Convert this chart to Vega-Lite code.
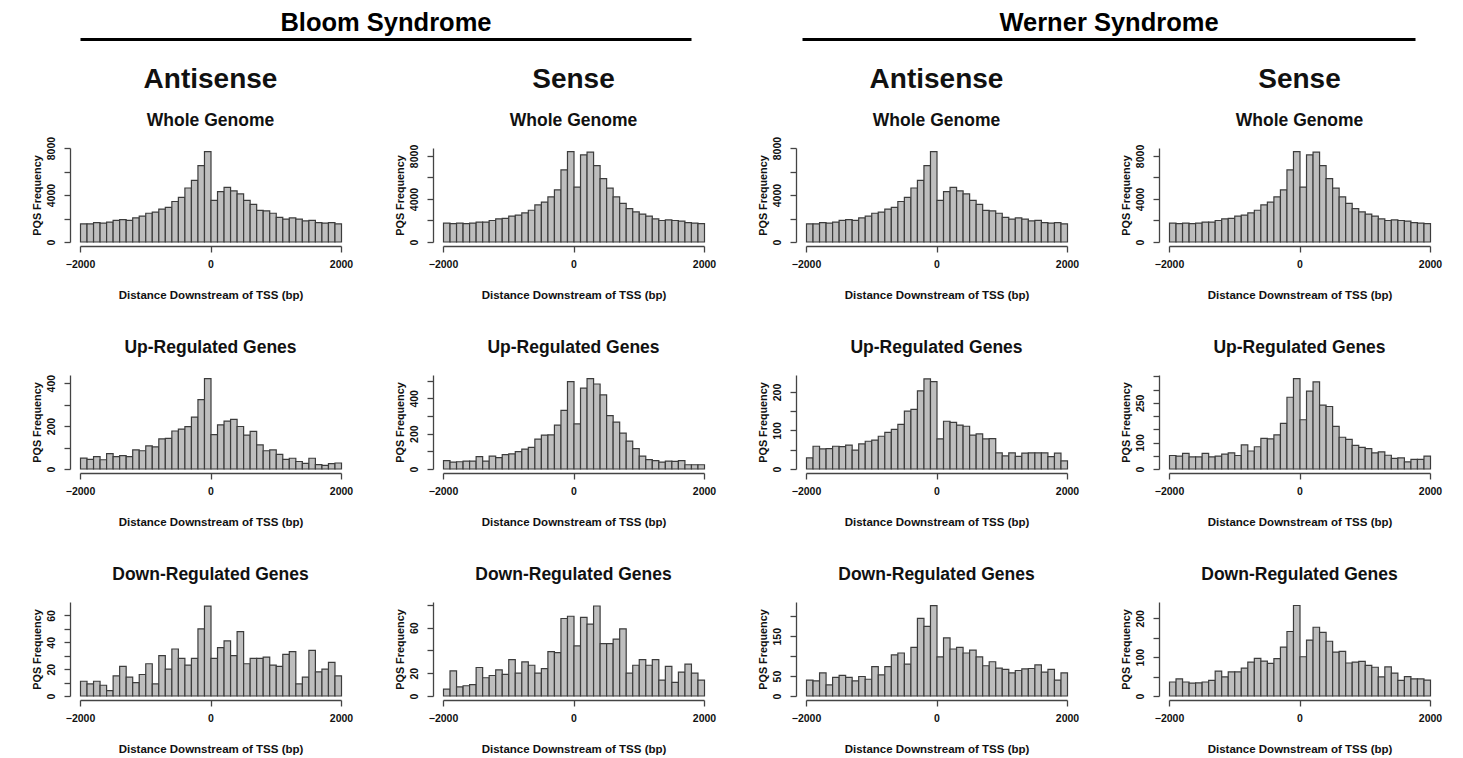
{
"$schema": "https://vega.github.io/schema/vega-lite/v6.json",
"background": "white",
"padding": {"left": 30, "top": 10, "right": 5, "bottom": 2},
"config": {
 "view": {"stroke": null},
 "font": "Liberation Sans",
 "title": {"fontSize": 17.5, "fontWeight": "bold", "color": "#111", "offset": 19, "anchor": "middle", "frame": "group", "subtitleFontSize": 17.5, "subtitleFontWeight": "bold", "subtitleColor": "#111", "subtitleFont": "Liberation Sans", "subtitlePadding": 18},
 "axis": {"domainColor": "#444", "tickColor": "#444", "labelColor": "#111", "titleColor": "#111", "labelFont": "Liberation Sans", "titleFont": "Liberation Sans", "labelFontWeight": "bold", "titleFontWeight": "bold", "grid": false, "labelFontSize": 10.5, "titleFontSize": 11, "tickSize": 6, "domainWidth": 1.3, "tickWidth": 1.3, "format": "d", "labelOverlap": false},
 "axisX": {"offset": 4, "labelPadding": 7, "titlePadding": 20, "labelFlush": false, "titleFontSize": 11.5},
 "axisY": {"offset": 10, "labelAngle": -90, "labelAlign": "center", "labelBaseline": "bottom", "labelPadding": 8, "titlePadding": 4, "titleFontSize": 10.8},
 "bar": {"fill": "#bebebe", "stroke": "#3c3c3c", "strokeWidth": 1.2, "binSpacing": 0}
},
"datasets": {
"wa": [{"a":-2000,"b":-1900,"n":1550},{"a":-1900,"b":-1800,"n":1550},{"a":-1800,"b":-1700,"n":1650},{"a":-1700,"b":-1600,"n":1600},{"a":-1600,"b":-1500,"n":1700},{"a":-1500,"b":-1400,"n":1850},{"a":-1400,"b":-1300,"n":1900},{"a":-1300,"b":-1200,"n":1850},{"a":-1200,"b":-1100,"n":2050},{"a":-1100,"b":-1000,"n":2200},{"a":-1000,"b":-900,"n":2450},{"a":-900,"b":-800,"n":2550},{"a":-800,"b":-700,"n":2800},{"a":-700,"b":-600,"n":2950},{"a":-600,"b":-500,"n":3450},{"a":-500,"b":-400,"n":3800},{"a":-400,"b":-300,"n":4600},{"a":-300,"b":-200,"n":5250},{"a":-200,"b":-100,"n":6500},{"a":-100,"b":0,"n":7700},{"a":0,"b":100,"n":3550},{"a":100,"b":200,"n":4300},{"a":200,"b":300,"n":4650},{"a":300,"b":400,"n":4350},{"a":400,"b":500,"n":4100},{"a":500,"b":600,"n":3550},{"a":600,"b":700,"n":3200},{"a":700,"b":800,"n":2700},{"a":800,"b":900,"n":2650},{"a":900,"b":1000,"n":2450},{"a":1000,"b":1100,"n":2100},{"a":1100,"b":1200,"n":1950},{"a":1200,"b":1300,"n":2050},{"a":1300,"b":1400,"n":1950},{"a":1400,"b":1500,"n":1800},{"a":1500,"b":1600,"n":1850},{"a":1600,"b":1700,"n":1650},{"a":1700,"b":1800,"n":1600},{"a":1800,"b":1900,"n":1650},{"a":1900,"b":2000,"n":1550}],
"ws": [{"a":-2000,"b":-1900,"n":1750},{"a":-1900,"b":-1800,"n":1700},{"a":-1800,"b":-1700,"n":1750},{"a":-1700,"b":-1600,"n":1700},{"a":-1600,"b":-1500,"n":1750},{"a":-1500,"b":-1400,"n":1850},{"a":-1400,"b":-1300,"n":1850},{"a":-1300,"b":-1200,"n":2000},{"a":-1200,"b":-1100,"n":2150},{"a":-1100,"b":-1000,"n":2200},{"a":-1000,"b":-900,"n":2400},{"a":-900,"b":-800,"n":2500},{"a":-800,"b":-700,"n":2700},{"a":-700,"b":-600,"n":2950},{"a":-600,"b":-500,"n":3450},{"a":-500,"b":-400,"n":3700},{"a":-400,"b":-300,"n":4200},{"a":-300,"b":-200,"n":4850},{"a":-200,"b":-100,"n":6700},{"a":-100,"b":0,"n":8400},{"a":0,"b":100,"n":5100},{"a":100,"b":200,"n":8100},{"a":200,"b":300,"n":8350},{"a":300,"b":400,"n":7100},{"a":400,"b":500,"n":5900},{"a":500,"b":600,"n":5000},{"a":600,"b":700,"n":4200},{"a":700,"b":800,"n":3600},{"a":800,"b":900,"n":3100},{"a":900,"b":1000,"n":2800},{"a":1000,"b":1100,"n":2600},{"a":1100,"b":1200,"n":2400},{"a":1200,"b":1300,"n":2150},{"a":1300,"b":1400,"n":2000},{"a":1400,"b":1500,"n":2050},{"a":1500,"b":1600,"n":2000},{"a":1600,"b":1700,"n":1950},{"a":1700,"b":1800,"n":1800},{"a":1800,"b":1900,"n":1750},{"a":1900,"b":2000,"n":1700}],
"bau": [{"a":-2000,"b":-1900,"n":51},{"a":-1900,"b":-1800,"n":45},{"a":-1800,"b":-1700,"n":58},{"a":-1700,"b":-1600,"n":43},{"a":-1600,"b":-1500,"n":72},{"a":-1500,"b":-1400,"n":58},{"a":-1400,"b":-1300,"n":62},{"a":-1300,"b":-1200,"n":58},{"a":-1200,"b":-1100,"n":89},{"a":-1100,"b":-1000,"n":85},{"a":-1000,"b":-900,"n":108},{"a":-900,"b":-800,"n":103},{"a":-800,"b":-700,"n":140},{"a":-700,"b":-600,"n":143},{"a":-600,"b":-500,"n":177},{"a":-500,"b":-400,"n":186},{"a":-400,"b":-300,"n":197},{"a":-300,"b":-200,"n":242},{"a":-200,"b":-100,"n":323},{"a":-100,"b":0,"n":421},{"a":0,"b":100,"n":160},{"a":100,"b":200,"n":206},{"a":200,"b":300,"n":223},{"a":300,"b":400,"n":231},{"a":400,"b":500,"n":198},{"a":500,"b":600,"n":158},{"a":600,"b":700,"n":175},{"a":700,"b":800,"n":112},{"a":800,"b":900,"n":85},{"a":900,"b":1000,"n":89},{"a":1000,"b":1100,"n":68},{"a":1100,"b":1200,"n":45},{"a":1200,"b":1300,"n":50},{"a":1300,"b":1400,"n":35},{"a":1400,"b":1500,"n":26},{"a":1500,"b":1600,"n":50},{"a":1600,"b":1700,"n":20},{"a":1700,"b":1800,"n":17},{"a":1800,"b":1900,"n":25},{"a":1900,"b":2000,"n":28}],
"bsu": [{"a":-2000,"b":-1900,"n":47},{"a":-1900,"b":-1800,"n":39},{"a":-1800,"b":-1700,"n":41},{"a":-1700,"b":-1600,"n":45},{"a":-1600,"b":-1500,"n":45},{"a":-1500,"b":-1400,"n":70},{"a":-1400,"b":-1300,"n":45},{"a":-1300,"b":-1200,"n":73},{"a":-1200,"b":-1100,"n":64},{"a":-1100,"b":-1000,"n":81},{"a":-1000,"b":-900,"n":86},{"a":-900,"b":-800,"n":98},{"a":-800,"b":-700,"n":113},{"a":-700,"b":-600,"n":122},{"a":-600,"b":-500,"n":169},{"a":-500,"b":-400,"n":192},{"a":-400,"b":-300,"n":193},{"a":-300,"b":-200,"n":248},{"a":-200,"b":-100,"n":332},{"a":-100,"b":0,"n":494},{"a":0,"b":100,"n":255},{"a":100,"b":200,"n":458},{"a":200,"b":300,"n":511},{"a":300,"b":400,"n":481},{"a":400,"b":500,"n":419},{"a":500,"b":600,"n":302},{"a":600,"b":700,"n":265},{"a":700,"b":800,"n":203},{"a":800,"b":900,"n":158},{"a":900,"b":1000,"n":115},{"a":1000,"b":1100,"n":73},{"a":1100,"b":1200,"n":53},{"a":1200,"b":1300,"n":47},{"a":1300,"b":1400,"n":39},{"a":1400,"b":1500,"n":45},{"a":1500,"b":1600,"n":43},{"a":1600,"b":1700,"n":47},{"a":1700,"b":1800,"n":24},{"a":1800,"b":1900,"n":24},{"a":1900,"b":2000,"n":24}],
"wau": [{"a":-2000,"b":-1900,"n":29},{"a":-1900,"b":-1800,"n":59},{"a":-1800,"b":-1700,"n":52},{"a":-1700,"b":-1600,"n":53},{"a":-1600,"b":-1500,"n":59},{"a":-1500,"b":-1400,"n":58},{"a":-1400,"b":-1300,"n":62},{"a":-1300,"b":-1200,"n":49},{"a":-1200,"b":-1100,"n":65},{"a":-1100,"b":-1000,"n":72},{"a":-1000,"b":-900,"n":75},{"a":-900,"b":-800,"n":85},{"a":-800,"b":-700,"n":95},{"a":-700,"b":-600,"n":103},{"a":-600,"b":-500,"n":116},{"a":-500,"b":-400,"n":150},{"a":-400,"b":-300,"n":155},{"a":-300,"b":-200,"n":203},{"a":-200,"b":-100,"n":234},{"a":-100,"b":0,"n":227},{"a":0,"b":100,"n":78},{"a":100,"b":200,"n":124},{"a":200,"b":300,"n":121},{"a":300,"b":400,"n":114},{"a":400,"b":500,"n":111},{"a":500,"b":600,"n":88},{"a":600,"b":700,"n":91},{"a":700,"b":800,"n":78},{"a":800,"b":900,"n":79},{"a":900,"b":1000,"n":42},{"a":1000,"b":1100,"n":34},{"a":1100,"b":1200,"n":42},{"a":1200,"b":1300,"n":33},{"a":1300,"b":1400,"n":41},{"a":1400,"b":1500,"n":42},{"a":1500,"b":1600,"n":42},{"a":1600,"b":1700,"n":42},{"a":1700,"b":1800,"n":32},{"a":1800,"b":1900,"n":41},{"a":1900,"b":2000,"n":21}],
"wsu": [{"a":-2000,"b":-1900,"n":51},{"a":-1900,"b":-1800,"n":49},{"a":-1800,"b":-1700,"n":59},{"a":-1700,"b":-1600,"n":46},{"a":-1600,"b":-1500,"n":46},{"a":-1500,"b":-1400,"n":59},{"a":-1400,"b":-1300,"n":46},{"a":-1300,"b":-1200,"n":49},{"a":-1200,"b":-1100,"n":56},{"a":-1100,"b":-1000,"n":61},{"a":-1000,"b":-900,"n":51},{"a":-900,"b":-800,"n":91},{"a":-800,"b":-700,"n":68},{"a":-700,"b":-600,"n":84},{"a":-600,"b":-500,"n":116},{"a":-500,"b":-400,"n":114},{"a":-400,"b":-300,"n":129},{"a":-300,"b":-200,"n":172},{"a":-200,"b":-100,"n":271},{"a":-100,"b":0,"n":341},{"a":0,"b":100,"n":186},{"a":100,"b":200,"n":294},{"a":200,"b":300,"n":329},{"a":300,"b":400,"n":241},{"a":400,"b":500,"n":236},{"a":500,"b":600,"n":161},{"a":600,"b":700,"n":120},{"a":700,"b":800,"n":112},{"a":800,"b":900,"n":89},{"a":900,"b":1000,"n":82},{"a":1000,"b":1100,"n":77},{"a":1100,"b":1200,"n":61},{"a":1200,"b":1300,"n":65},{"a":1300,"b":1400,"n":52},{"a":1400,"b":1500,"n":40},{"a":1500,"b":1600,"n":42},{"a":1600,"b":1700,"n":27},{"a":1700,"b":1800,"n":36},{"a":1800,"b":1900,"n":36},{"a":1900,"b":2000,"n":49}],
"bad": [{"a":-2000,"b":-1900,"n":11},{"a":-1900,"b":-1800,"n":9},{"a":-1800,"b":-1700,"n":11},{"a":-1700,"b":-1600,"n":8},{"a":-1600,"b":-1500,"n":4},{"a":-1500,"b":-1400,"n":15},{"a":-1400,"b":-1300,"n":22},{"a":-1300,"b":-1200,"n":14},{"a":-1200,"b":-1100,"n":10},{"a":-1100,"b":-1000,"n":16},{"a":-1000,"b":-900,"n":24},{"a":-900,"b":-800,"n":9},{"a":-800,"b":-700,"n":30},{"a":-700,"b":-600,"n":20},{"a":-600,"b":-500,"n":35},{"a":-500,"b":-400,"n":28},{"a":-400,"b":-300,"n":23},{"a":-300,"b":-200,"n":28},{"a":-200,"b":-100,"n":50},{"a":-100,"b":0,"n":67},{"a":0,"b":100,"n":28},{"a":100,"b":200,"n":36},{"a":200,"b":300,"n":41},{"a":300,"b":400,"n":30},{"a":400,"b":500,"n":48},{"a":500,"b":600,"n":24},{"a":600,"b":700,"n":28},{"a":700,"b":800,"n":28},{"a":800,"b":900,"n":29},{"a":900,"b":1000,"n":23},{"a":1000,"b":1100,"n":22},{"a":1100,"b":1200,"n":31},{"a":1200,"b":1300,"n":33},{"a":1300,"b":1400,"n":9},{"a":1400,"b":1500,"n":14},{"a":1500,"b":1600,"n":34},{"a":1600,"b":1700,"n":18},{"a":1700,"b":1800,"n":20},{"a":1800,"b":1900,"n":25},{"a":1900,"b":2000,"n":15}],
"bsd": [{"a":-2000,"b":-1900,"n":6},{"a":-1900,"b":-1800,"n":22},{"a":-1800,"b":-1700,"n":8},{"a":-1700,"b":-1600,"n":9},{"a":-1600,"b":-1500,"n":10},{"a":-1500,"b":-1400,"n":25},{"a":-1400,"b":-1300,"n":16},{"a":-1300,"b":-1200,"n":18},{"a":-1200,"b":-1100,"n":23},{"a":-1100,"b":-1000,"n":19},{"a":-1000,"b":-900,"n":32},{"a":-900,"b":-800,"n":20},{"a":-800,"b":-700,"n":30},{"a":-700,"b":-600,"n":27},{"a":-600,"b":-500,"n":20},{"a":-500,"b":-400,"n":24},{"a":-400,"b":-300,"n":39},{"a":-300,"b":-200,"n":38},{"a":-200,"b":-100,"n":68},{"a":-100,"b":0,"n":70},{"a":0,"b":100,"n":44},{"a":100,"b":200,"n":69},{"a":200,"b":300,"n":63},{"a":300,"b":400,"n":79},{"a":400,"b":500,"n":46},{"a":500,"b":600,"n":46},{"a":600,"b":700,"n":50},{"a":700,"b":800,"n":59},{"a":800,"b":900,"n":20},{"a":900,"b":1000,"n":27},{"a":1000,"b":1100,"n":32},{"a":1100,"b":1200,"n":27},{"a":1200,"b":1300,"n":32},{"a":1300,"b":1400,"n":14},{"a":1400,"b":1500,"n":26},{"a":1500,"b":1600,"n":12},{"a":1600,"b":1700,"n":21},{"a":1700,"b":1800,"n":28},{"a":1800,"b":1900,"n":20},{"a":1900,"b":2000,"n":14}],
"wad": [{"a":-2000,"b":-1900,"n":40},{"a":-1900,"b":-1800,"n":38},{"a":-1800,"b":-1700,"n":58},{"a":-1700,"b":-1600,"n":28},{"a":-1600,"b":-1500,"n":47},{"a":-1500,"b":-1400,"n":52},{"a":-1400,"b":-1300,"n":47},{"a":-1300,"b":-1200,"n":38},{"a":-1200,"b":-1100,"n":49},{"a":-1100,"b":-1000,"n":42},{"a":-1000,"b":-900,"n":74},{"a":-900,"b":-800,"n":53},{"a":-800,"b":-700,"n":74},{"a":-700,"b":-600,"n":103},{"a":-600,"b":-500,"n":108},{"a":-500,"b":-400,"n":80},{"a":-400,"b":-300,"n":122},{"a":-300,"b":-200,"n":195},{"a":-200,"b":-100,"n":175},{"a":-100,"b":0,"n":227},{"a":0,"b":100,"n":98},{"a":100,"b":200,"n":146},{"a":200,"b":300,"n":118},{"a":300,"b":400,"n":122},{"a":400,"b":500,"n":108},{"a":500,"b":600,"n":115},{"a":600,"b":700,"n":98},{"a":700,"b":800,"n":76},{"a":800,"b":900,"n":86},{"a":900,"b":1000,"n":70},{"a":1000,"b":1100,"n":67},{"a":1100,"b":1200,"n":58},{"a":1200,"b":1300,"n":64},{"a":1300,"b":1400,"n":68},{"a":1400,"b":1500,"n":69},{"a":1500,"b":1600,"n":78},{"a":1600,"b":1700,"n":60},{"a":1700,"b":1800,"n":67},{"a":1800,"b":1900,"n":40},{"a":1900,"b":2000,"n":58}],
"wsd": [{"a":-2000,"b":-1900,"n":36},{"a":-1900,"b":-1800,"n":44},{"a":-1800,"b":-1700,"n":36},{"a":-1700,"b":-1600,"n":33},{"a":-1600,"b":-1500,"n":34},{"a":-1500,"b":-1400,"n":36},{"a":-1400,"b":-1300,"n":40},{"a":-1300,"b":-1200,"n":64},{"a":-1200,"b":-1100,"n":49},{"a":-1100,"b":-1000,"n":62},{"a":-1000,"b":-900,"n":62},{"a":-900,"b":-800,"n":72},{"a":-800,"b":-700,"n":87},{"a":-700,"b":-600,"n":97},{"a":-600,"b":-500,"n":90},{"a":-500,"b":-400,"n":84},{"a":-400,"b":-300,"n":96},{"a":-300,"b":-200,"n":126},{"a":-200,"b":-100,"n":166},{"a":-100,"b":0,"n":233},{"a":0,"b":100,"n":101},{"a":100,"b":200,"n":144},{"a":200,"b":300,"n":177},{"a":300,"b":400,"n":164},{"a":400,"b":500,"n":141},{"a":500,"b":600,"n":113},{"a":600,"b":700,"n":115},{"a":700,"b":800,"n":85},{"a":800,"b":900,"n":87},{"a":900,"b":1000,"n":89},{"a":1000,"b":1100,"n":79},{"a":1100,"b":1200,"n":74},{"a":1200,"b":1300,"n":49},{"a":1300,"b":1400,"n":75},{"a":1400,"b":1500,"n":59},{"a":1500,"b":1600,"n":40},{"a":1600,"b":1700,"n":50},{"a":1700,"b":1800,"n":44},{"a":1800,"b":1900,"n":44},{"a":1900,"b":2000,"n":41}]
},
"vconcat": [
 {"hconcat": [
   {"width": 611, "height": 1, "data": {"values": [{"a": 0}]}, "mark": {"type": "point", "opacity": 0}, "encoding": {"x": {"field": "a", "type": "quantitative", "scale": {"domain": [0, 1]}, "axis": {"orient": "top", "ticks": false, "labels": false, "domainColor": "#000", "domainWidth": 3, "title": "Bloom Syndrome", "titleFontSize": 25.5, "titleColor": "#000", "titlePadding": 4}}}},
   {"width": 108, "height": 1, "data": {"values": []}, "mark": "point"},
   {"width": 613, "height": 1, "data": {"values": [{"a": 0}]}, "mark": {"type": "point", "opacity": 0}, "encoding": {"x": {"field": "a", "type": "quantitative", "scale": {"domain": [0, 1]}, "axis": {"orient": "top", "ticks": false, "labels": false, "domainColor": "#000", "domainWidth": 3, "title": "Werner Syndrome", "titleFontSize": 25.5, "titleColor": "#000", "titlePadding": 4}}}}
 ], "spacing": 0},
 {"concat": [
  {"width": 261, "height": 94, "title": {"text": "Antisense", "subtitle": "Whole Genome", "fontSize": 28, "offset": 7}, "data": {"name": "wa"}, "mark": "bar", "encoding": {"x": {"field": "a", "type": "quantitative", "bin": {"binned": true}, "scale": {"domain": [-2000, 2000], "nice": false}, "axis": {"values": [-2000, 0, 2000], "title": "Distance Downstream of TSS (bp)"}}, "x2": {"field": "b"}, "y": {"field": "n", "type": "quantitative", "scale": {"domain": [0, 8010], "nice": false}, "axis": {"values": [0, 2000, 4000, 6000, 8000], "labelExpr": "indexof([0,4000,8000], datum.value) >= 0 ? datum.label : ''", "title": "PQS Frequency"}}}},
  {"width": 261, "height": 94, "title": {"text": "Sense", "subtitle": "Whole Genome", "fontSize": 28, "offset": 15}, "data": {"name": "ws"}, "mark": "bar", "encoding": {"x": {"field": "a", "type": "quantitative", "bin": {"binned": true}, "scale": {"domain": [-2000, 2000], "nice": false}, "axis": {"values": [-2000, 0, 2000], "title": "Distance Downstream of TSS (bp)"}}, "x2": {"field": "b"}, "y": {"field": "n", "type": "quantitative", "scale": {"domain": [0, 8740], "nice": false}, "axis": {"values": [0, 2000, 4000, 6000, 8000], "labelExpr": "indexof([0,4000,8000], datum.value) >= 0 ? datum.label : ''", "title": "PQS Frequency"}}}},
  {"width": 261, "height": 94, "title": {"text": "Antisense", "subtitle": "Whole Genome", "fontSize": 28, "offset": 7}, "data": {"name": "wa"}, "mark": "bar", "encoding": {"x": {"field": "a", "type": "quantitative", "bin": {"binned": true}, "scale": {"domain": [-2000, 2000], "nice": false}, "axis": {"values": [-2000, 0, 2000], "title": "Distance Downstream of TSS (bp)"}}, "x2": {"field": "b"}, "y": {"field": "n", "type": "quantitative", "scale": {"domain": [0, 8010], "nice": false}, "axis": {"values": [0, 2000, 4000, 6000, 8000], "labelExpr": "indexof([0,4000,8000], datum.value) >= 0 ? datum.label : ''", "title": "PQS Frequency"}}}},
  {"width": 261, "height": 94, "title": {"text": "Sense", "subtitle": "Whole Genome", "fontSize": 28, "offset": 15}, "data": {"name": "ws"}, "mark": "bar", "encoding": {"x": {"field": "a", "type": "quantitative", "bin": {"binned": true}, "scale": {"domain": [-2000, 2000], "nice": false}, "axis": {"values": [-2000, 0, 2000], "title": "Distance Downstream of TSS (bp)"}}, "x2": {"field": "b"}, "y": {"field": "n", "type": "quantitative", "scale": {"domain": [0, 8740], "nice": false}, "axis": {"values": [0, 2000, 4000, 6000, 8000], "labelExpr": "indexof([0,4000,8000], datum.value) >= 0 ? datum.label : ''", "title": "PQS Frequency"}}}},
  {"width": 261, "height": 94, "title": {"text": "Up-Regulated Genes", "offset": 18}, "data": {"name": "bau"}, "mark": "bar", "encoding": {"x": {"field": "a", "type": "quantitative", "bin": {"binned": true}, "scale": {"domain": [-2000, 2000], "nice": false}, "axis": {"values": [-2000, 0, 2000], "title": "Distance Downstream of TSS (bp)"}}, "x2": {"field": "b"}, "y": {"field": "n", "type": "quantitative", "scale": {"domain": [0, 438], "nice": false}, "axis": {"values": [0, 100, 200, 300, 400], "labelExpr": "indexof([0,200,400], datum.value) >= 0 ? datum.label : ''", "title": "PQS Frequency"}}}},
  {"width": 261, "height": 94, "title": {"text": "Up-Regulated Genes"}, "data": {"name": "bsu"}, "mark": "bar", "encoding": {"x": {"field": "a", "type": "quantitative", "bin": {"binned": true}, "scale": {"domain": [-2000, 2000], "nice": false}, "axis": {"values": [-2000, 0, 2000], "title": "Distance Downstream of TSS (bp)"}}, "x2": {"field": "b"}, "y": {"field": "n", "type": "quantitative", "scale": {"domain": [0, 532], "nice": false}, "axis": {"values": [0, 100, 200, 300, 400, 500], "labelExpr": "indexof([0,200,400], datum.value) >= 0 ? datum.label : ''", "title": "PQS Frequency"}}}},
  {"width": 261, "height": 94, "title": {"text": "Up-Regulated Genes"}, "data": {"name": "wau"}, "mark": "bar", "encoding": {"x": {"field": "a", "type": "quantitative", "bin": {"binned": true}, "scale": {"domain": [-2000, 2000], "nice": false}, "axis": {"values": [-2000, 0, 2000], "title": "Distance Downstream of TSS (bp)"}}, "x2": {"field": "b"}, "y": {"field": "n", "type": "quantitative", "scale": {"domain": [0, 244], "nice": false}, "axis": {"values": [0, 50, 100, 150, 200], "labelExpr": "indexof([0,100,200], datum.value) >= 0 ? datum.label : ''", "title": "PQS Frequency"}}}},
  {"width": 261, "height": 94, "title": {"text": "Up-Regulated Genes"}, "data": {"name": "wsu"}, "mark": "bar", "encoding": {"x": {"field": "a", "type": "quantitative", "bin": {"binned": true}, "scale": {"domain": [-2000, 2000], "nice": false}, "axis": {"values": [-2000, 0, 2000], "title": "Distance Downstream of TSS (bp)"}}, "x2": {"field": "b"}, "y": {"field": "n", "type": "quantitative", "scale": {"domain": [0, 355], "nice": false}, "axis": {"values": [0, 50, 100, 150, 200, 250, 300, 350], "labelExpr": "indexof([0,100,250], datum.value) >= 0 ? datum.label : ''", "title": "PQS Frequency"}}}},
  {"width": 261, "height": 94, "title": {"text": "Down-Regulated Genes"}, "data": {"name": "bad"}, "mark": "bar", "encoding": {"x": {"field": "a", "type": "quantitative", "bin": {"binned": true}, "scale": {"domain": [-2000, 2000], "nice": false}, "axis": {"values": [-2000, 0, 2000], "title": "Distance Downstream of TSS (bp)"}}, "x2": {"field": "b"}, "y": {"field": "n", "type": "quantitative", "scale": {"domain": [0, 70], "nice": false}, "axis": {"values": [0, 10, 20, 30, 40, 50, 60], "labelExpr": "indexof([0,20,40,60], datum.value) >= 0 ? datum.label : ''", "title": "PQS Frequency"}}}},
  {"width": 261, "height": 94, "title": {"text": "Down-Regulated Genes"}, "data": {"name": "bsd"}, "mark": "bar", "encoding": {"x": {"field": "a", "type": "quantitative", "bin": {"binned": true}, "scale": {"domain": [-2000, 2000], "nice": false}, "axis": {"values": [-2000, 0, 2000], "title": "Distance Downstream of TSS (bp)"}}, "x2": {"field": "b"}, "y": {"field": "n", "type": "quantitative", "scale": {"domain": [0, 82.5], "nice": false}, "axis": {"values": [0, 20, 40, 60, 80], "labelExpr": "indexof([0,20,60], datum.value) >= 0 ? datum.label : ''", "title": "PQS Frequency"}}}},
  {"width": 261, "height": 94, "title": {"text": "Down-Regulated Genes"}, "data": {"name": "wad"}, "mark": "bar", "encoding": {"x": {"field": "a", "type": "quantitative", "bin": {"binned": true}, "scale": {"domain": [-2000, 2000], "nice": false}, "axis": {"values": [-2000, 0, 2000], "title": "Distance Downstream of TSS (bp)"}}, "x2": {"field": "b"}, "y": {"field": "n", "type": "quantitative", "scale": {"domain": [0, 236], "nice": false}, "axis": {"values": [0, 50, 100, 150, 200], "labelExpr": "indexof([0,50,150], datum.value) >= 0 ? datum.label : ''", "title": "PQS Frequency"}}}},
  {"width": 261, "height": 94, "title": {"text": "Down-Regulated Genes"}, "data": {"name": "wsd"}, "mark": "bar", "encoding": {"x": {"field": "a", "type": "quantitative", "bin": {"binned": true}, "scale": {"domain": [-2000, 2000], "nice": false}, "axis": {"values": [-2000, 0, 2000], "title": "Distance Downstream of TSS (bp)"}}, "x2": {"field": "b"}, "y": {"field": "n", "type": "quantitative", "scale": {"domain": [0, 242], "nice": false}, "axis": {"values": [0, 50, 100, 150, 200], "labelExpr": "indexof([0,100,200], datum.value) >= 0 ? datum.label : ''", "title": "PQS Frequency"}}}}
 ], "columns": 4, "spacing": {"row": 37, "column": 40}}
],
"spacing": 18
}
